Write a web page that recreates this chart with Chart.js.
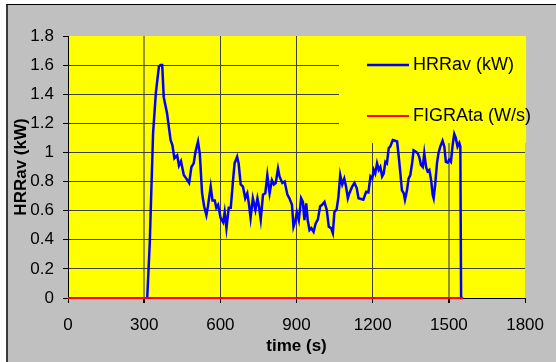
<!DOCTYPE html>
<html>
<head>
<meta charset="utf-8">
<script src="https://cdn.jsdelivr.net/npm/chart.js@4/dist/chart.umd.min.js"></script>
<style>
  html, body { margin: 0; padding: 0; background: #fff; overflow: hidden; }
  #frame {
    position: absolute; left: 6px; top: 4px; width: 600px; height: 400px;
    background: #c0c0c0; border-left: 2px solid #3a3a3a; border-top: 1px solid #000;
  }
  #chart { position: absolute; left: 0; top: 0; }
</style>
</head>
<body>
<div id="frame"></div>
<canvas id="chart" width="556" height="362"></canvas>
<script>
// HRRav (kW), time in seconds
const hrrTime = [
  312, 322, 335, 346, 358, 364, 371, 377, 390, 404, 411, 419, 430, 437, 445, 456, 466, 477, 486, 495,
  502, 512, 519, 528, 536, 545, 551, 562, 569, 578, 584, 591, 601, 611, 617, 624, 633, 641, 650, 656,
  666, 672, 680, 689, 698, 706, 713, 719, 728, 738, 746, 752, 759, 768, 777, 785, 794, 803, 811, 818,
  827, 833, 844, 853, 864, 872, 882, 888, 896, 901, 909, 918, 925, 931, 938, 944, 951, 958, 967, 975,
  984, 993, 1001, 1010, 1019, 1027, 1036, 1043, 1049, 1058, 1065, 1072, 1080, 1088, 1095, 1102, 1108, 1119, 1128, 1137,
  1144, 1154, 1163, 1174, 1183, 1191, 1198, 1204, 1210, 1217, 1224, 1230, 1237, 1243, 1250, 1256, 1263, 1269, 1279, 1288,
  1296, 1302, 1309, 1315, 1322, 1327, 1335, 1341, 1348, 1355, 1361, 1370, 1377, 1383, 1390, 1397, 1403, 1410, 1416, 1423,
  1430, 1436, 1440, 1446, 1453, 1459, 1466, 1475, 1482, 1488, 1495, 1501, 1508, 1514, 1521, 1527, 1534, 1541, 1545, 1548,
  1555
]
const hrrav = [
  0, 0.38, 1.13, 1.41, 1.59, 1.60, 1.60, 1.38, 1.27, 1.085, 1.05, 0.96, 0.98, 0.91, 0.94, 0.845, 0.82, 0.79, 0.90, 0.925,
  1.005, 1.075, 0.99, 0.72, 0.63, 0.57, 0.63, 0.765, 0.67, 0.67, 0.62, 0.64, 0.55, 0.52, 0.59, 0.48, 0.62, 0.62, 0.81, 0.925,
  0.97, 0.925, 0.78, 0.765, 0.685, 0.72, 0.64, 0.55, 0.685, 0.605, 0.685, 0.63, 0.54, 0.71, 0.72, 0.845, 0.72, 0.81, 0.78, 0.79,
  0.89, 0.835, 0.79, 0.80, 0.71, 0.685, 0.64, 0.49, 0.535, 0.59, 0.535, 0.685, 0.66, 0.535, 0.65, 0.535, 0.467, 0.48, 0.455, 0.51,
  0.54, 0.63, 0.64, 0.66, 0.605, 0.49, 0.48, 0.445, 0.59, 0.61, 0.695, 0.845, 0.78, 0.82, 0.765, 0.685, 0.72, 0.765, 0.79, 0.755,
  0.685, 0.68, 0.675, 0.73, 0.725, 0.835, 0.82, 0.88, 0.855, 0.925, 0.88, 0.90, 0.835, 0.855, 0.935, 0.925, 1.03, 1.04, 1.085, 1.08,
  1.075, 0.98, 0.855, 0.74, 0.72, 0.675, 0.74, 0.82, 0.845, 0.925, 1.015, 1.005, 0.995, 0.97, 0.915, 0.90, 0.995, 0.90, 0.87, 0.88,
  0.81, 0.71, 0.685, 0.78, 0.925, 0.995, 1.04, 1.08, 1.04, 0.935, 0.93, 0.95, 0.935, 1.04, 1.127, 1.10, 1.04, 1.065, 1.04, 0,
  0
]

// FIGRAta (W/s) stays on zero
const figraTime = [0, 300, 600, 900, 1200, 1500, 1557]
const figraTa = [0, 0, 0, 0, 0, 0, 0]

const xTicks = [0, 300, 600, 900, 1200, 1500, 1800]
const yTicks = [0, 0.2, 0.4, 0.6, 0.8, 1, 1.2, 1.4, 1.6, 1.8]

const legendItems = [
  { label: "HRRav (kW)", color: "#0000ff", width: 2.5 },
  { label: "FIGRAta (W/s)", color: "#ff0000", width: 2 }
]

const FONT = "'Liberation Sans', Arial, sans-serif"

// yellow plot area
const plotBg = {
  id: "plotBg",
  beforeDraw(chart) {
    const { ctx, chartArea: a } = chart
    ctx.save()
    ctx.fillStyle = "#ffff00"
    ctx.fillRect(a.left, a.top, a.right - a.left, a.bottom - a.top)
    ctx.restore()
  }
}

// legend box sits over the grid but under the lines
const boxLegend = {
  id: "boxLegend",
  beforeDatasetsDraw(chart) {
    const { ctx, chartArea: a } = chart
    ctx.save()
    ctx.fillStyle = "#ffff00"
    ctx.fillRect(339, a.top, a.right + 1 - 339, 143 - a.top)
    ctx.font = "18px " + FONT
    ctx.textBaseline = "middle"
    legendItems.forEach((it, i) => {
      const y = 65 + i * 51
      ctx.strokeStyle = it.color
      ctx.lineWidth = it.width
      ctx.beginPath()
      ctx.moveTo(367, y)
      ctx.lineTo(409, y)
      ctx.stroke()
      ctx.fillStyle = "#000"
      ctx.fillText(it.label, 413, y)
    })
    ctx.restore()
  }
}

new Chart(document.getElementById("chart"), {
  type: "line",
  data: {
    datasets: [
      {
        label: "HRRav (kW)",
        data: hrrTime.map((t, i) => ({ x: t, y: hrrav[i] })),
        borderColor: "#0000ff",
        borderWidth: 2.5,
        pointRadius: 0,
        fill: false,
        tension: 0,
        clip: false,
        order: 1
      },
      {
        label: "FIGRAta (W/s)",
        data: figraTime.map((t, i) => ({ x: t, y: figraTa[i] })),
        borderColor: "#ff0000",
        borderWidth: 2,
        pointRadius: 0,
        fill: false,
        clip: false,
        order: 0
      }
    ]
  },
  options: {
    responsive: false,
    animation: false,
    layout: { padding: { left: 0, right: 30, top: 36, bottom: 0 } },
    plugins: { legend: { display: false }, tooltip: { enabled: false } },
    scales: {
      x: {
        type: "linear",
        min: 0,
        max: 1800,
        afterFit: s => { s.height = 64 },
        afterBuildTicks: s => { s.ticks = xTicks.map(v => ({ value: v })) },
        grid: {
          color: c => {
            const v = c.tick && c.tick.value
            if (v === 0 || v === 1800) return "rgba(0,0,0,0)"
            if (v === 300 || v === 1500) return "rgba(110,110,80,0.75)"
            return "#404040"
          },
          lineWidth: c => (c.tick && (c.tick.value === 300 || c.tick.value === 1500)) ? 2 : 1,
          tickColor: "#000",
          tickLength: 5
        },
        border: { display: true, color: "#000", width: 1 },
        ticks: {
          color: "#000", padding: 12, maxRotation: 0, font: { family: FONT, size: 17 },
          callback: v => String(v)
        },
        title: {
          display: true, text: "time (s)", color: "#000",
          font: { family: FONT, size: 17, weight: "bold", lineHeight: 1.2 },
          padding: { top: 0, bottom: 5 }
        }
      },
      y: {
        min: 0,
        max: 1.8,
        afterFit: s => { s.width = 68 },
        afterBuildTicks: s => { s.ticks = yTicks.map(v => ({ value: v })) },
        grid: {
          color: c => (c.tick && c.tick.value === 1.8) ? "rgba(0,0,0,0)" : "#404040",
          tickColor: "#000",
          tickLength: 5
        },
        border: { display: true, color: "#000", width: 1 },
        ticks: {
          color: "#000", padding: 9, font: { family: FONT, size: 17 },
          callback: v => String(Math.round(v * 10) / 10)
        },
        title: {
          display: true, text: "HRRav (kW)", color: "#000",
          font: { family: FONT, size: 17, weight: "bold", lineHeight: 1.2 },
          padding: { top: 11, bottom: 0 }
        }
      }
    }
  },
  plugins: [plotBg, boxLegend]
})
</script>
</body>
</html>
